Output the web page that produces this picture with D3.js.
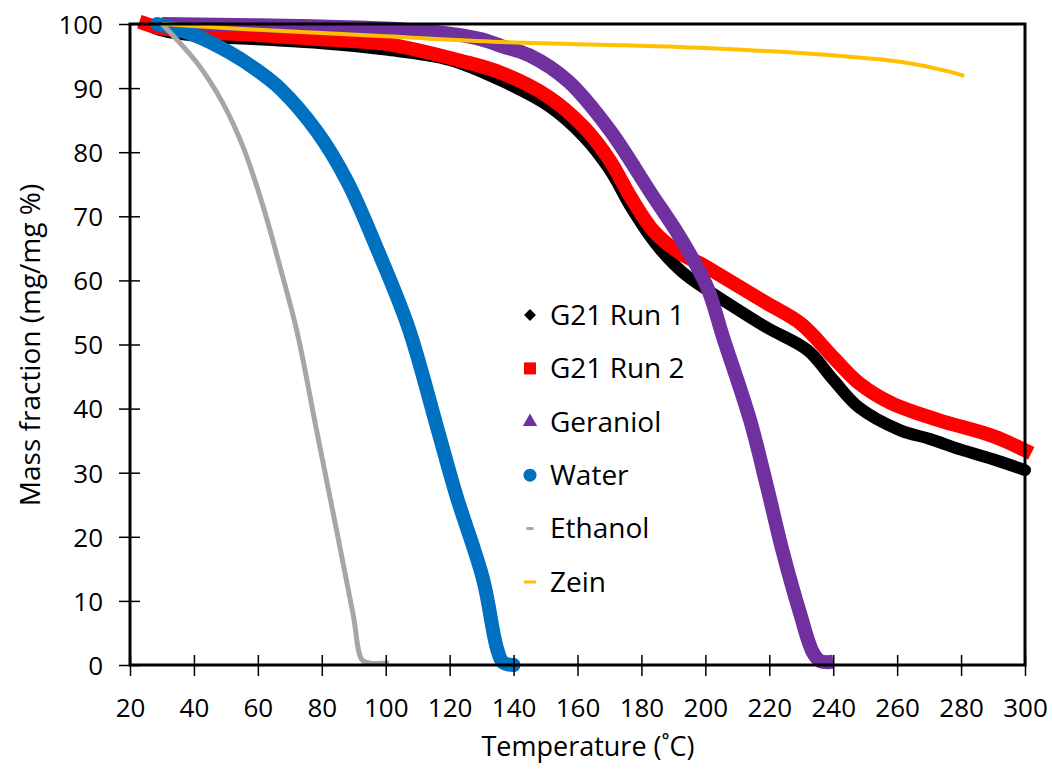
<!DOCTYPE html>
<html>
<head>
<meta charset="utf-8">
<script src="https://cdn.jsdelivr.net/npm/d3@7/dist/d3.min.js"></script>
<style>
body{margin:0;background:#fff;}
text{font-family:"Open Sans","Noto Sans",sans-serif;fill:#000;}
</style>
</head>
<body>
<svg id="chart" width="1053" height="769"></svg>
<script>
// 数据 (温度 ˚C, 质量分数 %)
var run1T = [25,30,40,60,80,100,120,136,151,162,170,177,184,190,195,204,219,232,240,248,261,270,280,290,300];
var run1M = [100,99,98.2,97.6,97,96,94.4,91.2,87.2,82.4,77.3,71.2,66,62.6,60.4,57.4,52.7,49.1,44.5,40.2,36.6,35.3,33.6,32.1,30.4];
var run2T = [25,30,40,60,80,100,124,136,151,162,170,177,184,192,200,204,219,230,240,248,258,273,290,300];
var run2M = [100,99.3,98.8,98.3,97.6,96.9,94.2,92.4,88.6,83.9,78.8,72.7,67.6,64.3,62.2,61,56.5,53.2,48,44,40.9,38.2,35.7,33.5];
var geraniolT = [30,60,80,100,120,130,136,145,157,170,183,192,200.5,205.5,214,219.3,224.3,229.6,233.7,236,240];
var geraniolM = [100,99.8,99.6,99.3,98.5,97.6,96.6,95.1,91.1,83.5,73.6,66.8,59,51.2,38.2,27.8,17.5,8.1,1.9,0.6,0.5];
var waterT = [28.5,40,51,60,67,78.5,88,97,107,116,122,130.5,134.8,136.7,140];
var waterM = [100,98.3,95.6,92.7,89.9,83.2,75.4,65.3,52.8,37.2,26.6,13.3,2.6,0.4,0];
var ethanolT = [30,41,49,55.4,61.6,67,72.3,78.5,84.8,89.8,92.6,95,101];
var ethanolM = [100,93.9,87.7,80.8,71.6,62,51.9,36.3,20.6,7.9,0.8,0.3,0.3];
var zeinT = [30,60,100,136,198,245,261,277,281];
var zeinM = [100,99.1,98.1,97.2,96.3,94.9,94.1,92.5,91.9];

var xTicks = [20,40,60,80,100,120,140,160,180,200,220,240,260,280,300];
var yTicks = [0,10,20,30,40,50,60,70,80,90,100];

var seriesNames = ["G21 Run 1","G21 Run 2","Geraniol","Water","Ethanol","Zein"];

var svg = d3.select("#chart");
var x = d3.scaleLinear().domain([20,300]).range([130,1025]);
var y = d3.scaleLinear().domain([0,100]).range([665,24]);

function pairs(ts, ms){
	return ts.map(function(t,i){ return [t, ms[i]]; });
}
var series = [
	{name: seriesNames[0], data: pairs(run1T, run1M), color: "#000000", width: 12, cap: "round", sym: "diamond"},
	{name: seriesNames[1], data: pairs(run2T, run2M), color: "#ff0000", width: 14, cap: "square", sym: "square"},
	{name: seriesNames[2], data: pairs(geraniolT, geraniolM), color: "#7030a0", width: 14, cap: "butt", sym: "triangle"},
	{name: seriesNames[3], data: pairs(waterT, waterM), color: "#0070c0", width: 14, cap: "round", sym: "circle"},
	{name: seriesNames[4], data: pairs(ethanolT, ethanolM), color: "#a6a6a6", width: 5, cap: "butt", sym: "dash"},
	{name: seriesNames[5], data: pairs(zeinT, zeinM), color: "#ffc000", width: 4, cap: "butt", sym: "line"}
];

// 曲线
var line = d3.line()
	.x(function(d){ return x(d[0]); })
	.y(function(d){ return y(d[1]); })
	.curve(d3.curveCatmullRom.alpha(0.5));

svg.append("g").attr("class","curves")
	.selectAll("path").data(series).enter().append("path")
	.attr("d", function(d){ return line(d.data); })
	.attr("fill","none")
	.attr("stroke", function(d){ return d.color; })
	.attr("stroke-width", function(d){ return d.width; })
	.attr("stroke-linecap", function(d){ return d.cap; })
	.attr("stroke-linejoin","round");

// 坐标轴
var xAxis = svg.append("g").attr("transform","translate(0,665)")
	.call(d3.axisBottom(x).tickValues(xTicks).tickSize(11).tickPadding(23).tickSizeOuter(0));
var yAxis = svg.append("g").attr("transform","translate(130,0)")
	.call(d3.axisLeft(y).tickValues(yTicks).tickSize(11).tickPadding(16).tickSizeOuter(0));

[xAxis, yAxis].forEach(function(ax){
	ax.select(".domain").remove();
	ax.selectAll("line").attr("stroke","#000").attr("stroke-width",1.5);
	ax.selectAll("text").attr("font-size",26).attr("fill","#000")
		.style("font-family","'Open Sans','Noto Sans',sans-serif");
});
// 刻度穿过坐标轴
xAxis.selectAll(".tick line").attr("y1",-10);
yAxis.selectAll(".tick line").attr("x1",10);
yAxis.selectAll("text").attr("dy","0.36em");

// 绘图区边框
svg.append("rect")
	.attr("x", x(20)).attr("y", y(100))
	.attr("width", x(300)-x(20)).attr("height", y(0)-y(100))
	.attr("fill","none").attr("stroke","#000").attr("stroke-width",3);

// 轴标题
svg.append("text").attr("x",588).attr("y",756)
	.attr("text-anchor","middle").attr("font-size",27)
	.text("Temperature (\u02DAC)");
svg.append("text")
	.attr("transform","translate(40,345) rotate(-90)")
	.attr("text-anchor","middle").attr("font-size",28)
	.text("Mass fraction (mg/mg %)");

// 图例
var legend = svg.append("g").attr("class","legend");
var items = legend.selectAll("g").data(series).enter().append("g")
	.attr("transform", function(d,i){ return "translate(530," + (315 + i*53.4) + ")"; });
items.each(function(d){
	var g = d3.select(this);
	if (d.sym == "diamond")
		g.append("path").attr("d", d3.symbol(d3.symbolDiamond2, 90)()).attr("fill", d.color);
	else if (d.sym == "square")
		g.append("rect").attr("x",-6).attr("y",-6).attr("width",12).attr("height",12).attr("fill", d.color);
	else if (d.sym == "triangle")
		g.append("path").attr("d", d3.symbol(d3.symbolTriangle, 90)()).attr("fill", d.color);
	else if (d.sym == "circle")
		g.append("circle").attr("r",6.5).attr("fill", d.color);
	else if (d.sym == "dash")
		g.append("rect").attr("x",-3.5).attr("y",-1.5).attr("width",7).attr("height",3).attr("fill", d.color);
	else
		g.append("rect").attr("x",-6).attr("y",-1.5).attr("width",12).attr("height",3).attr("fill", d.color);
	g.append("text").attr("x",20).attr("dy","0.35em").attr("font-size",28).text(d.name);
});
</script>
</body>
</html>
